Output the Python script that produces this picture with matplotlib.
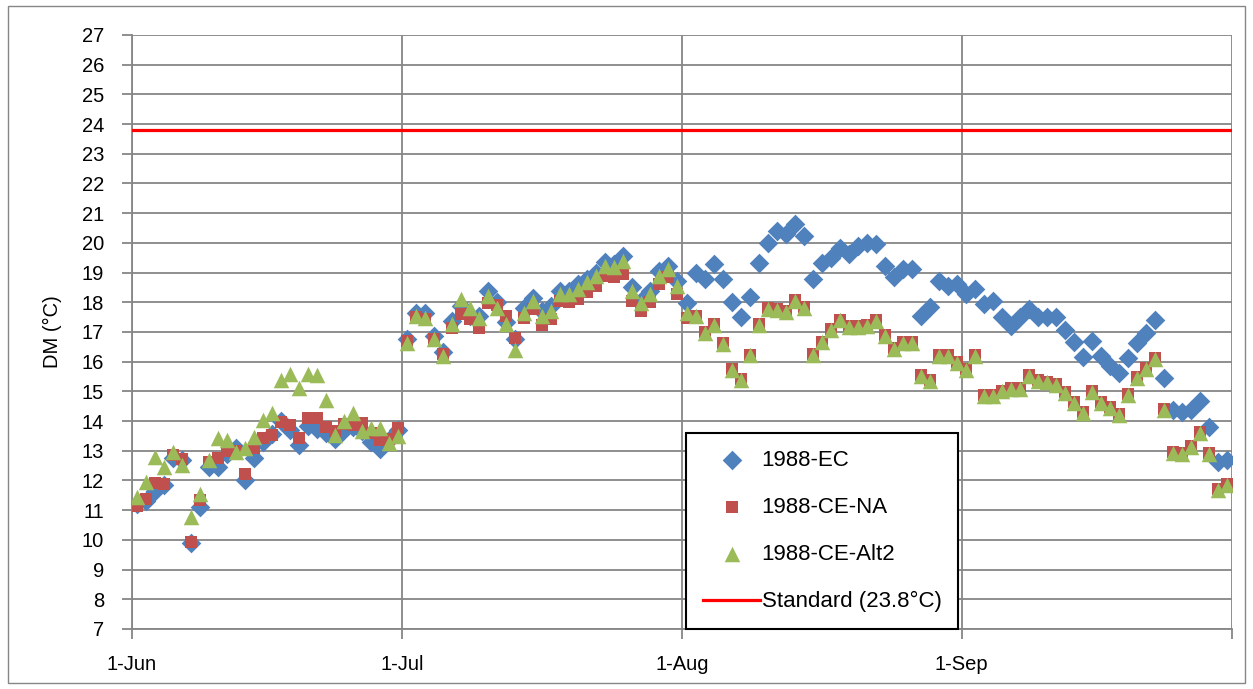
import pandas as pd
import matplotlib
matplotlib.use("Agg")
import matplotlib.pyplot as plt
import matplotlib.patches as mpatches

plt.rcParams['font.family'] = ['Liberation Sans', 'DejaVu Sans']

# daily values, 1 Jun 1988 .. 30 Sep 1988
start = "1988-06-01 12:00"
ec = [11.2, 11.3, 11.65, 11.85, 12.75, 12.7, 9.88, 11.1, 12.45, 12.45,
      12.9, 13.1, 12.0, 12.75, 13.3, 13.55, 14.0, 13.7, 13.2, 13.85,
      13.75, 13.6, 13.4, 13.7, 13.8, 13.65, 13.3, 13.05, 13.35, 13.7,
      16.77, 17.65, 17.63, 16.86, 16.32, 17.37, 17.88, 17.55, 17.55, 18.39,
      18.0, 17.35, 16.75, 17.82, 18.16, 17.7, 17.88, 18.39, 18.39, 18.6,
      18.78, 19.0, 19.35, 19.3, 19.57, 18.5, 18.05, 18.39, 19.06, 19.23,
      18.72, 17.98, 19.0, 18.79, 19.28, 18.79, 18.0, 17.5, 18.18, 19.31,
      20.0, 20.4, 20.29, 20.63, 20.23, 18.79, 19.31, 19.5, 19.84, 19.61,
      19.9, 20.0, 19.97, 19.23, 18.84, 19.12, 19.12, 17.55, 17.83, 18.73,
      18.56, 18.61, 18.28, 18.45, 17.94, 18.05, 17.49, 17.21, 17.49, 17.77,
      17.49, 17.49, 17.5, 17.08, 16.65, 16.15, 16.7, 16.18, 15.84, 15.61,
      16.12, 16.63, 16.96, 17.41, 15.44, 14.37, 14.32, 14.37, 14.69, 13.79,
      12.63, 12.68]
ce_na = [11.15, 11.38, 11.9, 11.88, 12.85, 12.74, 9.93, 11.33, 12.63, 12.76,
         13.0, 13.0, 12.22, 13.08, 13.42, 13.53, 13.98, 13.87, 13.42, 14.1,
         14.1, 13.8, 13.65, 13.9, 13.87, 13.93, 13.6, 13.36, 13.4, 13.76,
         16.7, 17.5, 17.45, 16.75, 16.25, 17.14, 17.6, 17.43, 17.14, 17.99,
         17.9, 17.55, 16.8, 17.48, 17.77, 17.25, 17.43, 18.05, 18.0, 18.1,
         18.33, 18.55, 18.9, 18.84, 18.95, 18.05, 17.7, 18.0, 18.6, 18.84,
         18.27, 17.47, 17.55, 17.0, 17.28, 16.63, 15.76, 15.42, 16.24, 17.28,
         17.81, 17.76, 17.7, 18.07, 17.84, 16.27, 16.68, 17.11, 17.42, 17.2,
         17.2, 17.23, 17.41, 16.9, 16.45, 16.67, 16.67, 15.55, 15.38, 16.22,
         16.22, 15.98, 15.75, 16.22, 14.87, 14.89, 15.03, 15.12, 15.1, 15.55,
         15.38, 15.33, 15.25, 14.97, 14.63, 14.29, 15.02, 14.63, 14.46, 14.23,
         14.91, 15.47, 15.78, 16.12, 14.4, 12.96, 12.92, 13.17, 13.62, 12.92,
         11.72, 11.87]
ce_alt2 = [11.43, 11.96, 12.8, 12.46, 12.97, 12.52, 10.78, 11.56, 12.69, 13.42,
           13.36, 12.97, 13.1, 13.47, 14.03, 14.26, 15.38, 15.6, 15.1, 15.6,
           15.56, 14.72, 13.53, 14.0, 14.27, 13.65, 13.76, 13.76, 13.25, 13.5,
           16.64, 17.55, 17.48, 16.75, 16.2, 17.26, 18.1, 17.82, 17.48, 18.22,
           17.8, 17.26, 16.41, 17.65, 18.05, 17.54, 17.7, 18.27, 18.27, 18.44,
           18.67, 18.9, 19.23, 19.18, 19.4, 18.39, 17.99, 18.27, 18.9, 19.12,
           18.55, 17.64, 17.53, 16.97, 17.25, 16.6, 15.73, 15.39, 16.21, 17.25,
           17.78, 17.73, 17.67, 18.04, 17.81, 16.24, 16.65, 17.08, 17.39, 17.17,
           17.17, 17.2, 17.38, 16.87, 16.42, 16.64, 16.64, 15.52, 15.35, 16.19,
           16.19, 15.95, 15.72, 16.19, 14.84, 14.86, 15.0, 15.09, 15.07, 15.52,
           15.35, 15.3, 15.22, 14.94, 14.6, 14.26, 14.99, 14.6, 14.43, 14.2,
           14.88, 15.44, 15.75, 16.09, 14.37, 12.93, 12.89, 13.14, 13.59, 12.89,
           11.69, 11.84]
standard = 23.8
month_ticks = ["1988-06-01", "1988-07-01", "1988-08-01", "1988-09-01", "1988-10-01"]
month_labels = ["1-Jun", "1-Jul", "1-Aug", "1-Sep", ""]

dates = pd.date_range(start, periods=len(ec), freq="D")

fig = plt.figure(figsize=(12.53, 6.89), dpi=100)
ax = fig.add_axes([132 / 1253, 1 - 629 / 689, 1100 / 1253, 594 / 689])

grid_c = "#868686"
ax.scatter(dates, ec, marker="D", s=100, color="#4F81BD", linewidths=0, zorder=3, label="1988-EC")
ax.scatter(dates, ce_na, marker="s", s=80, color="#C0504D", linewidths=0, zorder=4, label="1988-CE-NA")
ax.scatter(dates, ce_alt2, marker="^", s=125, color="#9BBB59", linewidths=0, zorder=5, label="1988-CE-Alt2")
ax.axhline(standard, color="#FF0000", lw=2.3, zorder=6, label="Standard (23.8°C)")

ax.set_xlim(pd.Timestamp(month_ticks[0]), pd.Timestamp(month_ticks[-1]))
ax.set_ylim(7, 27)
ax.set_yticks(range(7, 28))
ax.set_xticks([pd.Timestamp(t) for t in month_ticks])
ax.set_xticklabels(month_labels)

ax.grid(True, color=grid_c, lw=1.3, zorder=0)
ax.set_axisbelow(True)
for s in ["top", "right"]:
    ax.spines[s].set_visible(False)
for s in ["left", "bottom"]:
    ax.spines[s].set_color(grid_c)
    ax.spines[s].set_linewidth(1.3)
ax.tick_params(direction="out", length=7, width=1.3, color=grid_c, labelsize=14.5)
ax.tick_params(axis="y", pad=13)
ax.tick_params(axis="x", pad=12)
ax.set_ylabel("DM (°C)", fontsize=14.5, labelpad=14)

leg = ax.legend(loc="upper left", bbox_to_anchor=(686 / 1253, 1 - 433 / 689),
                bbox_transform=fig.transFigure, fontsize=16, frameon=True,
                fancybox=False, framealpha=1, edgecolor="black",
                labelspacing=1.18, handlelength=2.6, handletextpad=0.05,
                borderpad=0.75, borderaxespad=0)
leg.get_frame().set_linewidth(1.5)
leg.set_zorder(10)

fig.patches.append(mpatches.Rectangle((8 / 1253, 6 / 689), 1237 / 1253, 677 / 689,
                                      transform=fig.transFigure, fill=False,
                                      edgecolor=grid_c, lw=1))

fig.savefig("out.png", dpi=100)
